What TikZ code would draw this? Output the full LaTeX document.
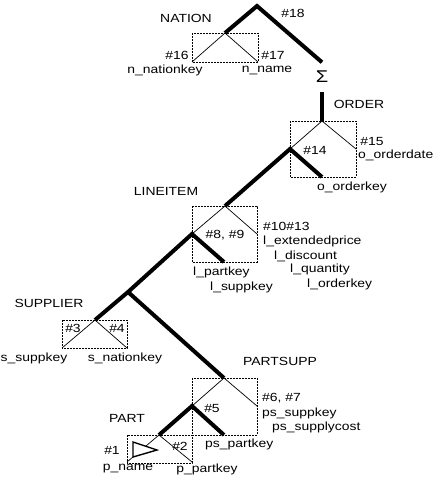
\documentclass[tikz,border=0pt]{standalone}
\usepackage{fontspec}
\setmainfont{Liberation Sans}[FakeStretch=1.18]
\usepackage{tikz}

\begin{document}
\begin{tikzpicture}[
    x=1pt, y=-1pt,
    font=\fontsize{11.8}{13}\selectfont,
    lbl/.style={inner sep=0pt},
    keybox/.style={draw, dash pattern=on 1.6pt off 1.4pt, line width=0.6pt},
    branch/.style={line width=0.7pt},
    heavy/.style={line width=4pt}
]
\useasboundingbox (0,0) rectangle (438,477);

% junction points of the tree
\coordinate (nTop) at (257,6);
\coordinate (nRoot) at (225,33);
\coordinate (nL) at (192,62);
\coordinate (nR) at (258,62);
\coordinate (oRoot) at (322,121);
\coordinate (oL) at (290,149);
\coordinate (oR) at (356,149);
\coordinate (oKey) at (322,177);
\coordinate (lRoot) at (225,206);
\coordinate (lL) at (192,234);
\coordinate (lR) at (257,234);
\coordinate (lKey) at (224,262);
\coordinate (jn) at (128,292);
\coordinate (sRoot) at (95,320);
\coordinate (sL) at (62,348);
\coordinate (sR) at (127,348);
\coordinate (pRoot) at (224,378);
\coordinate (pL) at (192,406);
\coordinate (pR) at (257,406);
\coordinate (pKey) at (224,435);
\coordinate (aRoot) at (159,435);
\coordinate (aL) at (127,462);
\coordinate (aR) at (192,462);

\node[lbl, font=\fontsize{17}{17}\selectfont, minimum height=29pt] (sum) at (322,77) {Σ};

% dotted key boxes
\draw[keybox] (192,33) rectangle (258,62);
\draw[keybox] (290,121) rectangle (356,177);
\draw[keybox] (192,206) rectangle (257,262);
\draw[keybox] (62,320) rectangle (127,348);
\draw[keybox] (192,378) rectangle (257,435);
\draw[keybox] (127,435) rectangle (192,463);

% thin branches
\draw[branch] (nL) -- (nRoot) -- (nR);
\draw[branch] (oL) -- (oRoot) -- (oR);
\draw[branch] (lL) -- (lRoot) -- (lR);
\draw[branch] (sL) -- (sRoot) -- (sR);
\draw[branch] (pL) -- (pRoot) -- (pR);
\draw[branch] (aL) -- (aRoot) -- (aR);

% join path
\draw[heavy] (nRoot) -- (nTop) -- (sum.north);
\draw[heavy] (sum.south) -- (oRoot);
\draw[heavy] (oKey) -- (oL) -- (lRoot);
\draw[heavy] (lKey) -- (lL) -- (jn) -- (sRoot);
\draw[heavy] (jn) -- (pRoot);
\draw[heavy] (pKey) -- (pL) -- (aRoot);

\draw[line width=1.4pt, fill=white] (133,442) -- (133,457) -- (157,450) -- cycle;

% NATION
\node[lbl] (nation) at (186,18) {NATION};
\node[lbl] (n18) at (293,13) {\#18};
\node[lbl] (n16) at (177,55) {\#16};
\node[lbl] (n17) at (273,55) {\#17};
\node[lbl] (nNatkey) at (165,70) {n\_nationkey};
\node[lbl] (nName) at (267,70) {n\_name};

% ORDER
\node[lbl] (order) at (359,104) {ORDER};
\node[lbl] (o14) at (315,150) {\#14};
\node[lbl] (o15) at (372,141) {\#15};
\node[lbl, anchor=west] (oDate) at (358,155) {o\_orderdate};
\node[lbl, anchor=west] (oOrdkey) at (317,187) {o\_orderkey};

% LINEITEM
\node[lbl] (lineitem) at (166,191) {LINEITEM};
\node[lbl] (l89) at (225,235) {\#8, \#9};
\node[lbl, anchor=west] (l1013) at (263,226) {\#10\#13};
\node[lbl, anchor=west] (lPrice) at (263,241) {l\_extendedprice};
\node[lbl, anchor=west] (lDisc) at (274,256) {l\_discount};
\node[lbl, anchor=west] (lQty) at (290,269) {l\_quantity};
\node[lbl, anchor=west] (lOrdkey) at (307,284) {l\_orderkey};
\node[lbl, anchor=west] (lPartkey) at (193,272) {l\_partkey};
\node[lbl, anchor=west] (lSuppkey) at (210,287) {l\_suppkey};

% SUPPLIER
\node[lbl] (supplier) at (49,303) {SUPPLIER};
\node[lbl] (s3) at (73,328) {\#3};
\node[lbl] (s4) at (117,328) {\#4};
\node[lbl, anchor=west] (sSuppkey) at (0.5,358) {s\_suppkey};
\node[lbl] (sNatkey) at (125,358) {s\_nationkey};

% PARTSUPP
\node[lbl] (partsupp) at (280,361) {PARTSUPP};
\node[lbl] (p5) at (212,408) {\#5};
\node[lbl, anchor=west] (p67) at (262,398) {\#6, \#7};
\node[lbl, anchor=west] (pSuppkey) at (262,413) {ps\_suppkey};
\node[lbl, anchor=west] (pCost) at (272,427) {ps\_supplycost};
\node[lbl, anchor=west] (pPartkey) at (205,444) {ps\_partkey};

% PART
\node[lbl] (part) at (127,418) {PART};
\node[lbl] (a1) at (112,450) {\#1};
\node[lbl] (a2) at (180,446) {\#2};
\node[lbl] (aName) at (128,469) {p\_name};
\node[lbl] (aPartkey) at (207,469) {p\_partkey};
\end{tikzpicture}
\end{document}
